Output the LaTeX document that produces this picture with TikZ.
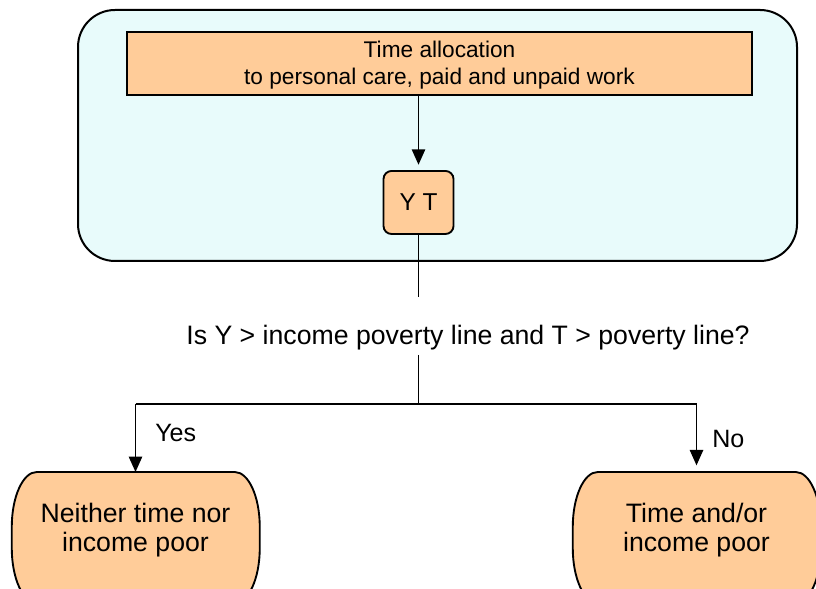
\documentclass[tikz,border=0pt]{standalone}
\usepackage{fontspec}
\setmainfont{Liberation Sans}
\usetikzlibrary{arrows.meta,backgrounds}
\definecolor{peach}{RGB}{255,204,153}
\definecolor{paleblue}{RGB}{232,251,251}
\newcommand\outcomeoutline[1]{%
  \path[outcomeshape] ([xshift=18.75pt]#1.north west) -- ([xshift=-18.75pt]#1.north east)
    arc[start angle=90,end angle=0,x radius=25,y radius=55] -- ++(0,-21)
    arc[start angle=0,end angle=-90,x radius=25,y radius=55] -- ++(-198,0)
    arc[start angle=-90,end angle=-180,x radius=25,y radius=55] -- ++(0,21)
    arc[start angle=180,end angle=90,x radius=25,y radius=55] -- cycle;}
\begin{document}
\begin{tikzpicture}[x=0.75pt,y=0.75pt,
  frame/.style={draw=black, line width=1.5pt, fill=paleblue, rounded corners=27.75pt, inner sep=0pt},
  peachbox/.style={draw=black, line width=1.4pt, fill=peach, inner sep=0pt},
  outcomeshape/.style={draw=black, line width=1.4pt, fill=peach},
  conn/.style={draw=black, line width=1.1pt},
  arr/.style={conn, -{Triangle[length=11.5pt,width=10pt]}},
  lbl/.style={inner sep=0pt, font=\fontsize{18.8}{22}\selectfont},
  outcome/.style={inner sep=0pt, align=center, minimum width=186pt, minimum height=86.25pt,
                  anchor=north, font=\fontsize{20}{21.75}\selectfont}
]
\useasboundingbox (0,0) rectangle (816,588);
\clip (0,0) rectangle (816,588);

% framed group
\node[frame, minimum width=539.25pt, minimum height=188.25pt] (grp) at (437.5,452.5) {};
\node[peachbox, minimum width=468.75pt, minimum height=47.25pt, align=center,
      text height=36pt, text depth=3.8pt,
      font=\fontsize{17}{20.25}\selectfont] (alloc) at (439.5,524.5)
      {Time allocation\\to personal care, paid and unpaid work};
\node[peachbox, rounded corners=6pt, minimum width=52.5pt, minimum height=47.25pt,
      font=\fontsize{18.3}{22}\selectfont] (yt) at (418.5,385.5) {Y T};

% question
\node[inner sep=0pt, anchor=base, font=\fontsize{20}{24}\selectfont] (quest) at (468,243)
      {Is Y > income poverty line and T > poverty line?};

% outcomes
\node[outcome] (L) at (135.5,116) {Neither time nor\\income poor};
\node[outcome] (R) at (696.5,116) {Time and/or\\income poor};
\begin{scope}[on background layer]
  \outcomeoutline{L}
  \outcomeoutline{R}
\end{scope}

% labels
\node[lbl, anchor=base west] (yes) at (155,146) {Yes};
\node[lbl, anchor=base west] (no) at (712,140) {No};

% connectors
\coordinate (q1) at (yt.south |- 0,291);
\coordinate (q2) at (yt.south |- 0,233);
\coordinate (hb) at (yt.south |- 0,184);
\coordinate (hl) at (L.north |- hb);
\coordinate (hr) at (R.north |- hb);
\draw[arr, shorten >=4pt] (yt.north |- alloc.south) -- (yt.north);
\draw[conn] (yt.south) -- (q1);
\draw[conn] (q2) -- (hb);
\draw[conn] (hl) -- (hr);
\draw[arr] (hl) -- (L.north);
\draw[arr, shorten >=5pt] (hr) -- (R.north);
\end{tikzpicture}
\end{document}
